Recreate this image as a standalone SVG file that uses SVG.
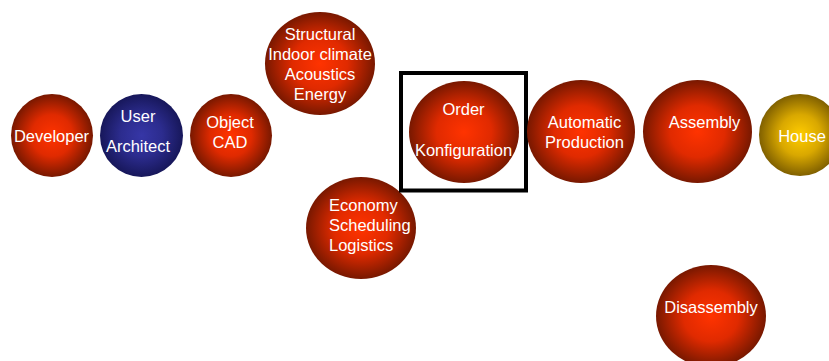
<svg xmlns="http://www.w3.org/2000/svg" width="829" height="361" viewBox="0 0 829 361">
<defs>
<radialGradient id="gr" cx="50%" cy="50%" r="50%">
<stop offset="0" stop-color="#FF3300"/>
<stop offset="0.5" stop-color="#E02A00"/>
<stop offset="1" stop-color="#781800"/>
</radialGradient>
<radialGradient id="gb" cx="50%" cy="50%" r="50%">
<stop offset="0" stop-color="#3636A6"/>
<stop offset="0.5" stop-color="#2C2C8E"/>
<stop offset="1" stop-color="#17175A"/>
</radialGradient>
<radialGradient id="gy" cx="50%" cy="50%" r="50%">
<stop offset="0" stop-color="#FFCC00"/>
<stop offset="0.5" stop-color="#D9A800"/>
<stop offset="1" stop-color="#806000"/>
</radialGradient>
<style>
text { font-family: "Liberation Sans", Arial, sans-serif; font-size: 16.5px; fill: #FFFFFF; text-anchor: middle; }
.r { fill: url(#gr); }
.b { fill: url(#gb); }
.y { fill: url(#gy); }
</style>
</defs>
<rect width="829" height="361" fill="#FFFFFF"/>
<g id="connectors"></g>
<g id="developer"><ellipse class="r" cx="52" cy="135.5" rx="41" ry="41.5"/><text x="51.5" y="142">Developer</text></g>
<g id="user-architect"><ellipse class="b" cx="141.5" cy="135.5" rx="41.5" ry="41.5"/><text x="138" y="122">User</text><text x="138" y="152">Architect</text></g>
<g id="object-cad"><ellipse class="r" cx="231" cy="135.5" rx="41" ry="41.5"/><text x="230" y="128">Object</text><text x="230" y="148">CAD</text></g>
<g id="structural"><ellipse class="r" cx="320" cy="63.5" rx="55" ry="51.5"/><text x="320" y="40">Structural</text><text x="320" y="60">Indoor climate</text><text x="320" y="80">Acoustics</text><text x="320" y="100">Energy</text></g>
<g id="economy"><ellipse class="r" cx="361" cy="228" rx="55" ry="51"/><text x="329" y="211" style="text-anchor:start">Economy</text><text x="329" y="231" style="text-anchor:start">Scheduling</text><text x="329" y="251" style="text-anchor:start">Logistics</text></g>
<g id="order"><rect x="401" y="73" width="125" height="117.5" fill="none" stroke="#000000" stroke-width="4"/><ellipse class="r" cx="464" cy="132" rx="55" ry="51"/><text x="463.5" y="115">Order</text><text x="463.5" y="156">Konfiguration</text></g>
<g id="automatic-production"><ellipse class="r" cx="581" cy="131.5" rx="54" ry="51.5"/><text x="584.5" y="128">Automatic</text><text x="584.5" y="148">Production</text></g>
<g id="assembly"><ellipse class="r" cx="697.5" cy="131.5" rx="54.5" ry="51.5"/><text x="704.5" y="128">Assembly</text></g>
<g id="house"><ellipse class="y" cx="800" cy="135" rx="41" ry="41"/><text x="802" y="142">House</text></g>
<g id="disassembly"><ellipse class="r" cx="711" cy="316" rx="55" ry="51"/><text x="711" y="313">Disassembly</text></g>
</svg>
